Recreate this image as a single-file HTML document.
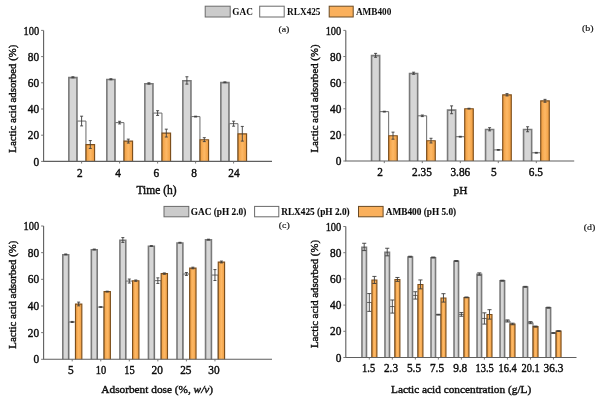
<!DOCTYPE html>
<html lang="en">
<head>
<meta charset="utf-8">
<title>Lactic acid adsorption</title>
<style>
html,body{margin:0;padding:0;background:#fff;}
body{width:600px;height:401px;overflow:hidden;}
svg{display:block;}
text{font-family:"Liberation Serif","Times New Roman",serif;fill:#0c0c0c;stroke:#0c0c0c;stroke-width:0.3px;}
.t{font-size:11.3px;stroke-width:0.4px;}
.y{font-size:11.3px;}
.l{font-size:9.7px;font-weight:bold;stroke-width:0px;}
.l2{font-size:9.75px;font-weight:bold;stroke-width:0.1px;}
.p{font-size:8.9px;stroke-width:0.15px;}
</style>
</head>
<body>
<svg width="600" height="401" viewBox="0 0 600 401">
<defs><linearGradient id="og" x1="0" y1="0" x2="1" y2="0"><stop offset="0" stop-color="#ef9d40"/><stop offset="0.5" stop-color="#fdb865"/><stop offset="1" stop-color="#ef9d40"/></linearGradient></defs>
<rect width="600" height="401" fill="#ffffff"/>
<g>
<path d="M68.85 161.40V77.60h8.10V161.40" fill="#d6d6d6" stroke="#7a7a7a" stroke-width="1.6"/>
<path d="M77.25 161.40V121.05h8.70V161.40" fill="#ffffff" stroke="#6a6a6a" stroke-width="1.0"/>
<path d="M86.02 161.40V144.58h8.55V161.40" fill="url(#og)" stroke="#7d4f1c" stroke-width="1.15"/>
<path d="M72.90 76.77V77.82M71.40 76.77h3.00M71.40 77.82h3.00" stroke="#3c3c3c" stroke-width="0.9" fill="none"/>
<path d="M81.60 116.20V125.90M80.10 116.20h3.00M80.10 125.90h3.00" stroke="#3c3c3c" stroke-width="0.9" fill="none"/>
<path d="M90.30 140.57V148.43M88.80 140.57h3.00M88.80 148.43h3.00" stroke="#3c3c3c" stroke-width="0.9" fill="none"/>
<path d="M106.85 161.40V79.56h8.10V161.40" fill="#d6d6d6" stroke="#7a7a7a" stroke-width="1.6"/>
<path d="M115.25 161.40V122.62h8.70V161.40" fill="#ffffff" stroke="#6a6a6a" stroke-width="1.0"/>
<path d="M124.02 161.40V141.17h8.55V161.40" fill="url(#og)" stroke="#7d4f1c" stroke-width="1.15"/>
<path d="M110.90 78.74V79.79M109.40 78.74h3.00M109.40 79.79h3.00" stroke="#3c3c3c" stroke-width="0.9" fill="none"/>
<path d="M119.60 121.31V123.93M118.10 121.31h3.00M118.10 123.93h3.00" stroke="#3c3c3c" stroke-width="0.9" fill="none"/>
<path d="M128.30 139.13V143.06M126.80 139.13h3.00M126.80 143.06h3.00" stroke="#3c3c3c" stroke-width="0.9" fill="none"/>
<path d="M144.85 161.40V83.75h8.10V161.40" fill="#d6d6d6" stroke="#7a7a7a" stroke-width="1.6"/>
<path d="M153.25 161.40V113.06h8.70V161.40" fill="#ffffff" stroke="#6a6a6a" stroke-width="1.0"/>
<path d="M162.02 161.40V133.18h8.55V161.40" fill="url(#og)" stroke="#7d4f1c" stroke-width="1.15"/>
<path d="M148.90 82.80V84.11M147.40 82.80h3.00M147.40 84.11h3.00" stroke="#3c3c3c" stroke-width="0.9" fill="none"/>
<path d="M157.60 110.70V115.42M156.10 110.70h3.00M156.10 115.42h3.00" stroke="#3c3c3c" stroke-width="0.9" fill="none"/>
<path d="M166.30 129.17V137.03M164.80 129.17h3.00M164.80 137.03h3.00" stroke="#3c3c3c" stroke-width="0.9" fill="none"/>
<path d="M182.85 161.40V80.74h8.10V161.40" fill="#d6d6d6" stroke="#7a7a7a" stroke-width="1.6"/>
<path d="M191.25 161.40V116.60h8.70V161.40" fill="#ffffff" stroke="#6a6a6a" stroke-width="1.0"/>
<path d="M200.02 161.40V139.73h8.55V161.40" fill="url(#og)" stroke="#7d4f1c" stroke-width="1.15"/>
<path d="M186.90 76.77V84.11M185.40 76.77h3.00M185.40 84.11h3.00" stroke="#3c3c3c" stroke-width="0.9" fill="none"/>
<path d="M195.60 116.20V116.99M194.10 116.20h3.00M194.10 116.99h3.00" stroke="#3c3c3c" stroke-width="0.9" fill="none"/>
<path d="M204.30 137.69V141.62M202.80 137.69h3.00M202.80 141.62h3.00" stroke="#3c3c3c" stroke-width="0.9" fill="none"/>
<path d="M220.85 161.40V82.58h8.10V161.40" fill="#d6d6d6" stroke="#7a7a7a" stroke-width="1.6"/>
<path d="M229.25 161.40V123.67h8.70V161.40" fill="#ffffff" stroke="#6a6a6a" stroke-width="1.0"/>
<path d="M238.02 161.40V133.83h8.55V161.40" fill="url(#og)" stroke="#7d4f1c" stroke-width="1.15"/>
<path d="M224.90 81.88V82.67M223.40 81.88h3.00M223.40 82.67h3.00" stroke="#3c3c3c" stroke-width="0.9" fill="none"/>
<path d="M233.60 121.18V126.16M232.10 121.18h3.00M232.10 126.16h3.00" stroke="#3c3c3c" stroke-width="0.9" fill="none"/>
<path d="M242.30 126.42V141.10M240.80 126.42h3.00M240.80 141.10h3.00" stroke="#3c3c3c" stroke-width="0.9" fill="none"/>
<path d="M43.60 30.40V161.40H272.00" stroke="#5f5f5f" stroke-width="1.1" fill="none"/>
<path d="M41.10 161.40h2.5M41.10 135.20h2.5M41.10 109.00h2.5M41.10 82.80h2.5M41.10 56.60h2.5M41.10 30.40h2.5M81.60 161.40v2.1M119.60 161.40v2.1M157.60 161.40v2.1M195.60 161.40v2.1M233.60 161.40v2.1" stroke="#6c6c6c" stroke-width="0.9" fill="none"/>
<text class="t" style="font-size:11.8px" transform="translate(39.10 165.50) scale(0.96 1)" text-anchor="end">0</text>
<text class="t" style="font-size:11.8px" transform="translate(39.10 139.30) scale(0.96 1)" text-anchor="end">20</text>
<text class="t" style="font-size:11.8px" transform="translate(39.10 113.10) scale(0.96 1)" text-anchor="end">40</text>
<text class="t" style="font-size:11.8px" transform="translate(39.10 86.90) scale(0.96 1)" text-anchor="end">60</text>
<text class="t" style="font-size:11.8px" transform="translate(39.10 60.70) scale(0.96 1)" text-anchor="end">80</text>
<text class="t" style="font-size:11.8px" transform="translate(39.10 34.50) scale(0.885 1)" text-anchor="end">100</text>
<text class="t" style="font-size:11.8px" transform="translate(79.80 176.50) scale(0.96 1)" text-anchor="middle">2</text>
<text class="t" style="font-size:11.8px" transform="translate(118.20 176.50) scale(0.96 1)" text-anchor="middle">4</text>
<text class="t" style="font-size:11.8px" transform="translate(156.30 176.50) scale(0.96 1)" text-anchor="middle">6</text>
<text class="t" style="font-size:11.8px" transform="translate(194.20 176.50) scale(0.96 1)" text-anchor="middle">8</text>
<text class="t" style="font-size:11.8px" transform="translate(234.00 176.50) scale(0.96 1)" text-anchor="middle">24</text>
<text class="t" style="font-size:11.5px" transform="translate(156.50 193.80) scale(1.0 1)" text-anchor="middle">Time (h)</text>
<text class="t y" transform="translate(15.70 98.70) rotate(-90) scale(0.955 1)" text-anchor="middle">Lactic acid adsorbed (%)</text>
<text class="p" transform="translate(283.90 32.00) scale(1.12 1)" text-anchor="middle">(a)</text>
</g>
<g>
<path d="M371.55 161.00V55.64h8.10V161.00" fill="#d6d6d6" stroke="#7a7a7a" stroke-width="1.6"/>
<path d="M379.95 161.00V111.63h8.70V161.00" fill="#ffffff" stroke="#6a6a6a" stroke-width="1.0"/>
<path d="M388.72 161.00V135.74h8.55V161.00" fill="url(#og)" stroke="#7d4f1c" stroke-width="1.15"/>
<path d="M375.60 53.39V57.30M374.10 53.39h3.00M374.10 57.30h3.00" stroke="#3c3c3c" stroke-width="0.9" fill="none"/>
<path d="M384.30 111.24V112.03M382.80 111.24h3.00M382.80 112.03h3.00" stroke="#3c3c3c" stroke-width="0.9" fill="none"/>
<path d="M393.00 132.14V139.19M391.50 132.14h3.00M391.50 139.19h3.00" stroke="#3c3c3c" stroke-width="0.9" fill="none"/>
<path d="M409.55 161.00V73.54h8.10V161.00" fill="#d6d6d6" stroke="#7a7a7a" stroke-width="1.6"/>
<path d="M417.95 161.00V115.81h8.70V161.00" fill="#ffffff" stroke="#6a6a6a" stroke-width="1.0"/>
<path d="M426.72 161.00V140.70h8.55V161.00" fill="url(#og)" stroke="#7d4f1c" stroke-width="1.15"/>
<path d="M413.60 72.19V74.28M412.10 72.19h3.00M412.10 74.28h3.00" stroke="#3c3c3c" stroke-width="0.9" fill="none"/>
<path d="M422.30 115.03V116.60M420.80 115.03h3.00M420.80 116.60h3.00" stroke="#3c3c3c" stroke-width="0.9" fill="none"/>
<path d="M431.00 138.28V142.98M429.50 138.28h3.00M429.50 142.98h3.00" stroke="#3c3c3c" stroke-width="0.9" fill="none"/>
<path d="M447.55 161.00V110.10h8.10V161.00" fill="#d6d6d6" stroke="#7a7a7a" stroke-width="1.6"/>
<path d="M455.95 161.00V136.71h8.70V161.00" fill="#ffffff" stroke="#6a6a6a" stroke-width="1.0"/>
<path d="M464.72 161.00V108.70h8.55V161.00" fill="url(#og)" stroke="#7d4f1c" stroke-width="1.15"/>
<path d="M451.60 105.89V113.72M450.10 105.89h3.00M450.10 113.72h3.00" stroke="#3c3c3c" stroke-width="0.9" fill="none"/>
<path d="M460.30 136.32V137.10M458.80 136.32h3.00M458.80 137.10h3.00" stroke="#3c3c3c" stroke-width="0.9" fill="none"/>
<path d="M469.00 108.24V109.02M467.50 108.24h3.00M467.50 109.02h3.00" stroke="#3c3c3c" stroke-width="0.9" fill="none"/>
<path d="M485.55 161.00V129.56h8.10V161.00" fill="#d6d6d6" stroke="#7a7a7a" stroke-width="1.6"/>
<path d="M493.95 161.00V149.90h8.70V161.00" fill="#ffffff" stroke="#6a6a6a" stroke-width="1.0"/>
<path d="M502.72 161.00V94.86h8.55V161.00" fill="url(#og)" stroke="#7d4f1c" stroke-width="1.15"/>
<path d="M489.60 127.70V130.83M488.10 127.70h3.00M488.10 130.83h3.00" stroke="#3c3c3c" stroke-width="0.9" fill="none"/>
<path d="M498.30 149.51V150.29M496.80 149.51h3.00M496.80 150.29h3.00" stroke="#3c3c3c" stroke-width="0.9" fill="none"/>
<path d="M507.00 93.61V95.96M505.50 93.61h3.00M505.50 95.96h3.00" stroke="#3c3c3c" stroke-width="0.9" fill="none"/>
<path d="M523.55 161.00V129.56h8.10V161.00" fill="#d6d6d6" stroke="#7a7a7a" stroke-width="1.6"/>
<path d="M531.95 161.00V152.77h8.70V161.00" fill="#ffffff" stroke="#6a6a6a" stroke-width="1.0"/>
<path d="M540.73 161.00V100.87h8.55V161.00" fill="url(#og)" stroke="#7d4f1c" stroke-width="1.15"/>
<path d="M527.60 126.78V131.75M526.10 126.78h3.00M526.10 131.75h3.00" stroke="#3c3c3c" stroke-width="0.9" fill="none"/>
<path d="M536.30 152.38V153.16M534.80 152.38h3.00M534.80 153.16h3.00" stroke="#3c3c3c" stroke-width="0.9" fill="none"/>
<path d="M545.00 99.36V102.23M543.50 99.36h3.00M543.50 102.23h3.00" stroke="#3c3c3c" stroke-width="0.9" fill="none"/>
<path d="M345.80 30.40V161.00H574.20" stroke="#5f5f5f" stroke-width="1.1" fill="none"/>
<path d="M343.30 161.00h2.5M343.30 134.88h2.5M343.30 108.76h2.5M343.30 82.64h2.5M343.30 56.52h2.5M343.30 30.40h2.5M384.30 161.00v2.1M422.30 161.00v2.1M460.30 161.00v2.1M498.30 161.00v2.1M536.30 161.00v2.1" stroke="#6c6c6c" stroke-width="0.9" fill="none"/>
<text class="t" style="font-size:11.8px" transform="translate(341.30 165.10) scale(0.96 1)" text-anchor="end">0</text>
<text class="t" style="font-size:11.8px" transform="translate(341.30 138.98) scale(0.96 1)" text-anchor="end">20</text>
<text class="t" style="font-size:11.8px" transform="translate(341.30 112.86) scale(0.96 1)" text-anchor="end">40</text>
<text class="t" style="font-size:11.8px" transform="translate(341.30 86.74) scale(0.96 1)" text-anchor="end">60</text>
<text class="t" style="font-size:11.8px" transform="translate(341.30 60.62) scale(0.96 1)" text-anchor="end">80</text>
<text class="t" style="font-size:11.8px" transform="translate(341.30 34.50) scale(0.885 1)" text-anchor="end">100</text>
<text class="t" style="font-size:11.8px" transform="translate(380.20 176.20) scale(0.96 1)" text-anchor="middle">2</text>
<text class="t" style="font-size:11.8px" transform="translate(422.00 176.20) scale(0.96 1)" text-anchor="middle">2.35</text>
<text class="t" style="font-size:11.8px" transform="translate(460.30 176.20) scale(0.96 1)" text-anchor="middle">3.86</text>
<text class="t" style="font-size:11.8px" transform="translate(493.80 176.20) scale(0.96 1)" text-anchor="middle">5</text>
<text class="t" style="font-size:11.8px" transform="translate(535.80 176.20) scale(0.96 1)" text-anchor="middle">6.5</text>
<text class="t" style="font-size:11.3px" transform="translate(460.50 194.40) scale(1.0 1)" text-anchor="middle">pH</text>
<text class="t y" transform="translate(317.70 98.50) rotate(-90) scale(0.955 1)" text-anchor="middle">Lactic acid adsorbed (%)</text>
<text class="p" transform="translate(587.70 31.30) scale(1.12 1)" text-anchor="middle">(b)</text>
</g>
<g>
<path d="M62.80 359.30V254.69h5.87V359.30" fill="#d6d6d6" stroke="#7a7a7a" stroke-width="1.6"/>
<path d="M68.97 359.30V321.98h6.47V359.30" fill="#ffffff" stroke="#6a6a6a" stroke-width="1.0"/>
<path d="M75.51 359.30V304.06h6.32V359.30" fill="url(#og)" stroke="#7d4f1c" stroke-width="1.15"/>
<path d="M65.73 253.99V254.79M64.23 253.99h3.00M64.23 254.79h3.00" stroke="#3c3c3c" stroke-width="0.9" fill="none"/>
<path d="M72.20 321.44V322.51M70.70 321.44h3.00M70.70 322.51h3.00" stroke="#3c3c3c" stroke-width="0.9" fill="none"/>
<path d="M78.67 302.11V305.85M77.17 302.11h3.00M77.17 305.85h3.00" stroke="#3c3c3c" stroke-width="0.9" fill="none"/>
<path d="M91.34 359.30V249.76h5.87V359.30" fill="#d6d6d6" stroke="#7a7a7a" stroke-width="1.6"/>
<path d="M97.52 359.30V307.05h6.47V359.30" fill="#ffffff" stroke="#6a6a6a" stroke-width="1.0"/>
<path d="M104.06 359.30V291.66h6.32V359.30" fill="url(#og)" stroke="#7d4f1c" stroke-width="1.15"/>
<path d="M94.28 249.06V249.86M92.78 249.06h3.00M92.78 249.86h3.00" stroke="#3c3c3c" stroke-width="0.9" fill="none"/>
<path d="M100.75 306.70V307.40M99.25 306.70h3.00M99.25 307.40h3.00" stroke="#3c3c3c" stroke-width="0.9" fill="none"/>
<path d="M107.22 291.18V291.98M105.72 291.18h3.00M105.72 291.98h3.00" stroke="#3c3c3c" stroke-width="0.9" fill="none"/>
<path d="M119.90 359.30V240.30h5.87V359.30" fill="#d6d6d6" stroke="#7a7a7a" stroke-width="1.6"/>
<path d="M126.07 359.30V281.05h6.47V359.30" fill="#ffffff" stroke="#6a6a6a" stroke-width="1.0"/>
<path d="M132.61 359.30V280.73h6.32V359.30" fill="url(#og)" stroke="#7d4f1c" stroke-width="1.15"/>
<path d="M122.83 237.60V242.40M121.33 237.60h3.00M121.33 242.40h3.00" stroke="#3c3c3c" stroke-width="0.9" fill="none"/>
<path d="M129.30 279.05V283.05M127.80 279.05h3.00M127.80 283.05h3.00" stroke="#3c3c3c" stroke-width="0.9" fill="none"/>
<path d="M135.77 279.99V281.32M134.27 279.99h3.00M134.27 281.32h3.00" stroke="#3c3c3c" stroke-width="0.9" fill="none"/>
<path d="M148.45 359.30V246.30h5.87V359.30" fill="#d6d6d6" stroke="#7a7a7a" stroke-width="1.6"/>
<path d="M154.62 359.30V280.65h6.47V359.30" fill="#ffffff" stroke="#6a6a6a" stroke-width="1.0"/>
<path d="M161.16 359.30V273.66h6.32V359.30" fill="url(#og)" stroke="#7d4f1c" stroke-width="1.15"/>
<path d="M151.38 245.65V246.34M149.88 245.65h3.00M149.88 246.34h3.00" stroke="#3c3c3c" stroke-width="0.9" fill="none"/>
<path d="M157.85 277.85V283.45M156.35 277.85h3.00M156.35 283.45h3.00" stroke="#3c3c3c" stroke-width="0.9" fill="none"/>
<path d="M164.32 272.92V274.25M162.82 272.92h3.00M162.82 274.25h3.00" stroke="#3c3c3c" stroke-width="0.9" fill="none"/>
<path d="M177.00 359.30V242.96h5.87V359.30" fill="#d6d6d6" stroke="#7a7a7a" stroke-width="1.6"/>
<path d="M183.16 359.30V273.99h6.47V359.30" fill="#ffffff" stroke="#6a6a6a" stroke-width="1.0"/>
<path d="M189.71 359.30V268.06h6.32V359.30" fill="url(#og)" stroke="#7d4f1c" stroke-width="1.15"/>
<path d="M179.93 242.31V243.01M178.43 242.31h3.00M178.43 243.01h3.00" stroke="#3c3c3c" stroke-width="0.9" fill="none"/>
<path d="M186.40 272.52V275.45M184.90 272.52h3.00M184.90 275.45h3.00" stroke="#3c3c3c" stroke-width="0.9" fill="none"/>
<path d="M192.87 267.19V268.79M191.37 267.19h3.00M191.37 268.79h3.00" stroke="#3c3c3c" stroke-width="0.9" fill="none"/>
<path d="M205.54 359.30V239.90h5.87V359.30" fill="#d6d6d6" stroke="#7a7a7a" stroke-width="1.6"/>
<path d="M211.71 359.30V275.05h6.47V359.30" fill="#ffffff" stroke="#6a6a6a" stroke-width="1.0"/>
<path d="M218.26 359.30V262.07h6.32V359.30" fill="url(#og)" stroke="#7d4f1c" stroke-width="1.15"/>
<path d="M208.48 239.20V240.00M206.98 239.20h3.00M206.98 240.00h3.00" stroke="#3c3c3c" stroke-width="0.9" fill="none"/>
<path d="M214.95 269.59V280.52M213.45 269.59h3.00M213.45 280.52h3.00" stroke="#3c3c3c" stroke-width="0.9" fill="none"/>
<path d="M221.42 261.06V262.92M219.92 261.06h3.00M219.92 262.92h3.00" stroke="#3c3c3c" stroke-width="0.9" fill="none"/>
<path d="M43.60 226.00V359.30H272.00" stroke="#5f5f5f" stroke-width="1.1" fill="none"/>
<path d="M41.10 359.30h2.5M41.10 332.64h2.5M41.10 305.98h2.5M41.10 279.32h2.5M41.10 252.66h2.5M41.10 226.00h2.5M72.20 359.30v2.1M100.75 359.30v2.1M129.30 359.30v2.1M157.85 359.30v2.1M186.40 359.30v2.1M214.95 359.30v2.1" stroke="#6c6c6c" stroke-width="0.9" fill="none"/>
<text class="t" style="font-size:11.8px" transform="translate(39.10 363.40) scale(0.96 1)" text-anchor="end">0</text>
<text class="t" style="font-size:11.8px" transform="translate(39.10 336.74) scale(0.96 1)" text-anchor="end">20</text>
<text class="t" style="font-size:11.8px" transform="translate(39.10 310.08) scale(0.96 1)" text-anchor="end">40</text>
<text class="t" style="font-size:11.8px" transform="translate(39.10 283.42) scale(0.96 1)" text-anchor="end">60</text>
<text class="t" style="font-size:11.8px" transform="translate(39.10 256.76) scale(0.96 1)" text-anchor="end">80</text>
<text class="t" style="font-size:11.8px" transform="translate(39.10 230.10) scale(0.885 1)" text-anchor="end">100</text>
<text class="t" style="font-size:11.8px" transform="translate(70.80 374.00) scale(0.96 1)" text-anchor="middle">5</text>
<text class="t" style="font-size:11.8px" transform="translate(100.90 374.00) scale(0.885 1)" text-anchor="middle">10</text>
<text class="t" style="font-size:11.8px" transform="translate(129.40 374.00) scale(0.885 1)" text-anchor="middle">15</text>
<text class="t" style="font-size:11.8px" transform="translate(157.20 374.00) scale(0.96 1)" text-anchor="middle">20</text>
<text class="t" style="font-size:11.8px" transform="translate(185.80 374.00) scale(0.96 1)" text-anchor="middle">25</text>
<text class="t" style="font-size:11.8px" transform="translate(214.00 374.00) scale(0.96 1)" text-anchor="middle">30</text>
<text class="t" style="font-size:11.3px" transform="translate(157.20 392.50) scale(1.0 1)" text-anchor="middle">Adsorbent dose (%, <tspan font-style="italic">w/v</tspan>)</text>
<text class="t y" transform="translate(15.70 294.65) rotate(-90) scale(0.955 1)" text-anchor="middle">Lactic acid adsorbed (%)</text>
<text class="p" transform="translate(284.30 227.70) scale(1.12 1)" text-anchor="middle">(c)</text>
</g>
<g>
<path d="M361.95 357.50V247.24h4.50V357.50" fill="#d6d6d6" stroke="#7a7a7a" stroke-width="1.6"/>
<path d="M366.75 357.50V302.48h5.10V357.50" fill="#ffffff" stroke="#6a6a6a" stroke-width="1.0"/>
<path d="M371.93 357.50V280.02h4.95V357.50" fill="url(#og)" stroke="#7d4f1c" stroke-width="1.15"/>
<path d="M364.20 243.27V250.60M362.15 243.27h4.10M362.15 250.60h4.10" stroke="#3c3c3c" stroke-width="0.9" fill="none"/>
<path d="M369.30 293.57V311.39M367.25 293.57h4.10M367.25 311.39h4.10" stroke="#3c3c3c" stroke-width="0.9" fill="none"/>
<path d="M374.40 276.41V283.48M372.35 276.41h4.10M372.35 283.48h4.10" stroke="#3c3c3c" stroke-width="0.9" fill="none"/>
<path d="M384.97 357.50V252.35h4.50V357.50" fill="#d6d6d6" stroke="#7a7a7a" stroke-width="1.6"/>
<path d="M389.77 357.50V306.54h5.10V357.50" fill="#ffffff" stroke="#6a6a6a" stroke-width="1.0"/>
<path d="M394.94 357.50V279.50h4.95V357.50" fill="url(#og)" stroke="#7d4f1c" stroke-width="1.15"/>
<path d="M387.22 248.25V255.84M385.17 248.25h4.10M385.17 255.84h4.10" stroke="#3c3c3c" stroke-width="0.9" fill="none"/>
<path d="M392.32 299.99V313.09M390.27 299.99h4.10M390.27 313.09h4.10" stroke="#3c3c3c" stroke-width="0.9" fill="none"/>
<path d="M397.42 277.46V281.39M395.37 277.46h4.10M395.37 281.39h4.10" stroke="#3c3c3c" stroke-width="0.9" fill="none"/>
<path d="M407.99 357.50V256.93h4.50V357.50" fill="#d6d6d6" stroke="#7a7a7a" stroke-width="1.6"/>
<path d="M412.79 357.50V295.41h5.10V357.50" fill="#ffffff" stroke="#6a6a6a" stroke-width="1.0"/>
<path d="M417.97 357.50V284.48h4.95V357.50" fill="url(#og)" stroke="#7d4f1c" stroke-width="1.15"/>
<path d="M410.24 256.24V257.02M408.19 256.24h4.10M408.19 257.02h4.10" stroke="#3c3c3c" stroke-width="0.9" fill="none"/>
<path d="M415.34 291.74V299.07M413.29 291.74h4.10M413.29 299.07h4.10" stroke="#3c3c3c" stroke-width="0.9" fill="none"/>
<path d="M420.44 279.95V288.86M418.39 279.95h4.10M418.39 288.86h4.10" stroke="#3c3c3c" stroke-width="0.9" fill="none"/>
<path d="M431.01 357.50V257.72h4.50V357.50" fill="#d6d6d6" stroke="#7a7a7a" stroke-width="1.6"/>
<path d="M435.81 357.50V314.66h5.10V357.50" fill="#ffffff" stroke="#6a6a6a" stroke-width="1.0"/>
<path d="M440.99 357.50V297.97h4.95V357.50" fill="url(#og)" stroke="#7d4f1c" stroke-width="1.15"/>
<path d="M433.26 257.02V257.81M431.21 257.02h4.10M431.21 257.81h4.10" stroke="#3c3c3c" stroke-width="0.9" fill="none"/>
<path d="M438.36 314.27V315.06M436.31 314.27h4.10M436.31 315.06h4.10" stroke="#3c3c3c" stroke-width="0.9" fill="none"/>
<path d="M443.46 293.70V302.09M441.41 293.70h4.10M441.41 302.09h4.10" stroke="#3c3c3c" stroke-width="0.9" fill="none"/>
<path d="M454.03 357.50V261.25h4.50V357.50" fill="#d6d6d6" stroke="#7a7a7a" stroke-width="1.6"/>
<path d="M458.83 357.50V314.40h5.10V357.50" fill="#ffffff" stroke="#6a6a6a" stroke-width="1.0"/>
<path d="M464.00 357.50V297.45h4.95V357.50" fill="url(#og)" stroke="#7d4f1c" stroke-width="1.15"/>
<path d="M456.28 260.56V261.35M454.23 260.56h4.10M454.23 261.35h4.10" stroke="#3c3c3c" stroke-width="0.9" fill="none"/>
<path d="M461.38 312.57V316.24M459.33 312.57h4.10M459.33 316.24h4.10" stroke="#3c3c3c" stroke-width="0.9" fill="none"/>
<path d="M466.48 296.98V297.76M464.43 296.98h4.10M464.43 297.76h4.10" stroke="#3c3c3c" stroke-width="0.9" fill="none"/>
<path d="M477.05 357.50V274.35h4.50V357.50" fill="#d6d6d6" stroke="#7a7a7a" stroke-width="1.6"/>
<path d="M481.85 357.50V318.46h5.10V357.50" fill="#ffffff" stroke="#6a6a6a" stroke-width="1.0"/>
<path d="M487.02 357.50V314.48h4.95V357.50" fill="url(#og)" stroke="#7d4f1c" stroke-width="1.15"/>
<path d="M479.30 272.87V275.23M477.25 272.87h4.10M477.25 275.23h4.10" stroke="#3c3c3c" stroke-width="0.9" fill="none"/>
<path d="M484.40 312.83V324.09M482.35 312.83h4.10M482.35 324.09h4.10" stroke="#3c3c3c" stroke-width="0.9" fill="none"/>
<path d="M489.50 309.69V319.12M487.45 309.69h4.10M487.45 319.12h4.10" stroke="#3c3c3c" stroke-width="0.9" fill="none"/>
<path d="M500.07 357.50V280.90h4.50V357.50" fill="#d6d6d6" stroke="#7a7a7a" stroke-width="1.6"/>
<path d="M504.87 357.50V320.95h5.10V357.50" fill="#ffffff" stroke="#6a6a6a" stroke-width="1.0"/>
<path d="M510.05 357.50V324.04h4.95V357.50" fill="url(#og)" stroke="#7d4f1c" stroke-width="1.15"/>
<path d="M502.32 280.21V281.00M500.27 280.21h4.10M500.27 281.00h4.10" stroke="#3c3c3c" stroke-width="0.9" fill="none"/>
<path d="M507.42 319.90V322.00M505.37 319.90h4.10M505.37 322.00h4.10" stroke="#3c3c3c" stroke-width="0.9" fill="none"/>
<path d="M512.52 323.18V324.75M510.47 323.18h4.10M510.47 324.75h4.10" stroke="#3c3c3c" stroke-width="0.9" fill="none"/>
<path d="M523.09 357.50V287.06h4.50V357.50" fill="#d6d6d6" stroke="#7a7a7a" stroke-width="1.6"/>
<path d="M527.89 357.50V322.65h5.10V357.50" fill="#ffffff" stroke="#6a6a6a" stroke-width="1.0"/>
<path d="M533.07 357.50V326.66h4.95V357.50" fill="url(#og)" stroke="#7d4f1c" stroke-width="1.15"/>
<path d="M525.34 286.37V287.15M523.29 286.37h4.10M523.29 287.15h4.10" stroke="#3c3c3c" stroke-width="0.9" fill="none"/>
<path d="M530.44 321.61V323.70M528.39 321.61h4.10M528.39 323.70h4.10" stroke="#3c3c3c" stroke-width="0.9" fill="none"/>
<path d="M535.54 326.06V327.11M533.49 326.06h4.10M533.49 327.11h4.10" stroke="#3c3c3c" stroke-width="0.9" fill="none"/>
<path d="M546.11 357.50V307.89h4.50V357.50" fill="#d6d6d6" stroke="#7a7a7a" stroke-width="1.6"/>
<path d="M550.91 357.50V333.00h5.10V357.50" fill="#ffffff" stroke="#6a6a6a" stroke-width="1.0"/>
<path d="M556.09 357.50V331.11h4.95V357.50" fill="url(#og)" stroke="#7d4f1c" stroke-width="1.15"/>
<path d="M548.36 307.20V307.98M546.31 307.20h4.10M546.31 307.98h4.10" stroke="#3c3c3c" stroke-width="0.9" fill="none"/>
<path d="M553.46 332.61V333.40M551.41 332.61h4.10M551.41 333.40h4.10" stroke="#3c3c3c" stroke-width="0.9" fill="none"/>
<path d="M558.56 330.65V331.43M556.51 330.65h4.10M556.51 331.43h4.10" stroke="#3c3c3c" stroke-width="0.9" fill="none"/>
<path d="M345.80 226.50V357.50H576.50" stroke="#5f5f5f" stroke-width="1.1" fill="none"/>
<path d="M343.30 357.50h2.5M343.30 331.30h2.5M343.30 305.10h2.5M343.30 278.90h2.5M343.30 252.70h2.5M343.30 226.50h2.5M369.30 357.50v2.1M392.32 357.50v2.1M415.34 357.50v2.1M438.36 357.50v2.1M461.38 357.50v2.1M484.40 357.50v2.1M507.42 357.50v2.1M530.44 357.50v2.1M553.46 357.50v2.1" stroke="#6c6c6c" stroke-width="0.9" fill="none"/>
<text class="t" style="font-size:11.8px" transform="translate(341.30 361.60) scale(0.96 1)" text-anchor="end">0</text>
<text class="t" style="font-size:11.8px" transform="translate(341.30 335.40) scale(0.96 1)" text-anchor="end">20</text>
<text class="t" style="font-size:11.8px" transform="translate(341.30 309.20) scale(0.96 1)" text-anchor="end">40</text>
<text class="t" style="font-size:11.8px" transform="translate(341.30 283.00) scale(0.96 1)" text-anchor="end">60</text>
<text class="t" style="font-size:11.8px" transform="translate(341.30 256.80) scale(0.96 1)" text-anchor="end">80</text>
<text class="t" style="font-size:11.8px" transform="translate(341.30 230.60) scale(0.885 1)" text-anchor="end">100</text>
<text class="t" style="font-size:11.8px" transform="translate(368.60 372.30) scale(0.885 1)" text-anchor="middle">1.5</text>
<text class="t" style="font-size:11.8px" transform="translate(391.00 372.30) scale(0.96 1)" text-anchor="middle">2.3</text>
<text class="t" style="font-size:11.8px" transform="translate(414.00 372.30) scale(0.96 1)" text-anchor="middle">5.5</text>
<text class="t" style="font-size:11.8px" transform="translate(437.00 372.30) scale(0.96 1)" text-anchor="middle">7.5</text>
<text class="t" style="font-size:11.8px" transform="translate(460.20 372.30) scale(0.96 1)" text-anchor="middle">9.8</text>
<text class="t" style="font-size:11.8px" transform="translate(484.60 372.30) scale(0.885 1)" text-anchor="middle">13.5</text>
<text class="t" style="font-size:11.8px" transform="translate(507.60 372.30) scale(0.885 1)" text-anchor="middle">16.4</text>
<text class="t" style="font-size:11.8px" transform="translate(530.60 372.30) scale(0.885 1)" text-anchor="middle">20.1</text>
<text class="t" style="font-size:11.8px" transform="translate(553.50 372.30) scale(0.96 1)" text-anchor="middle">36.3</text>
<text class="t" style="font-size:11.3px" transform="translate(461.10 393.00) scale(1.0 1)" text-anchor="middle">Lactic acid concentration (g/L)</text>
<text class="t y" transform="translate(317.70 294.00) rotate(-90) scale(0.955 1)" text-anchor="middle">Lactic acid adsorbed (%)</text>
<text class="p" transform="translate(589.50 229.80) scale(1.12 1)" text-anchor="middle">(d)</text>
</g>
<rect x="205.20" y="6.20" width="25.00" height="10.80" fill="#cbcbcb" stroke="#6a6a6a" stroke-width="1"/>
<text class="l" transform="translate(232.30 14.90) scale(0.955 1)" text-anchor="start">GAC</text>
<rect x="259.70" y="6.20" width="24.50" height="10.80" fill="#ffffff" stroke="#6a6a6a" stroke-width="1"/>
<text class="l" transform="translate(287.10 14.90) scale(0.955 1)" text-anchor="start">RLX425</text>
<rect x="329.20" y="6.20" width="24.00" height="10.80" fill="#fab05c" stroke="#6a4a24" stroke-width="1"/>
<text class="l" transform="translate(355.90 14.90) scale(0.955 1)" text-anchor="start">AMB400</text>
<rect x="164.00" y="206.40" width="24.80" height="10.40" fill="#cbcbcb" stroke="#6a6a6a" stroke-width="1"/>
<text class="l2" transform="translate(190.80 214.90) scale(0.955 1)" text-anchor="start">GAC (pH 2.0)</text>
<rect x="254.60" y="206.40" width="24.20" height="10.40" fill="#ffffff" stroke="#6a6a6a" stroke-width="1"/>
<text class="l2" transform="translate(281.20 214.90) scale(0.955 1)" text-anchor="start">RLX425 (pH 2.0)</text>
<rect x="358.50" y="206.40" width="24.60" height="10.40" fill="#fab05c" stroke="#6a4a24" stroke-width="1"/>
<text class="l2" transform="translate(385.70 214.90) scale(0.955 1)" text-anchor="start">AMB400 (pH 5.0)</text>
</svg>
</body>
</html>
